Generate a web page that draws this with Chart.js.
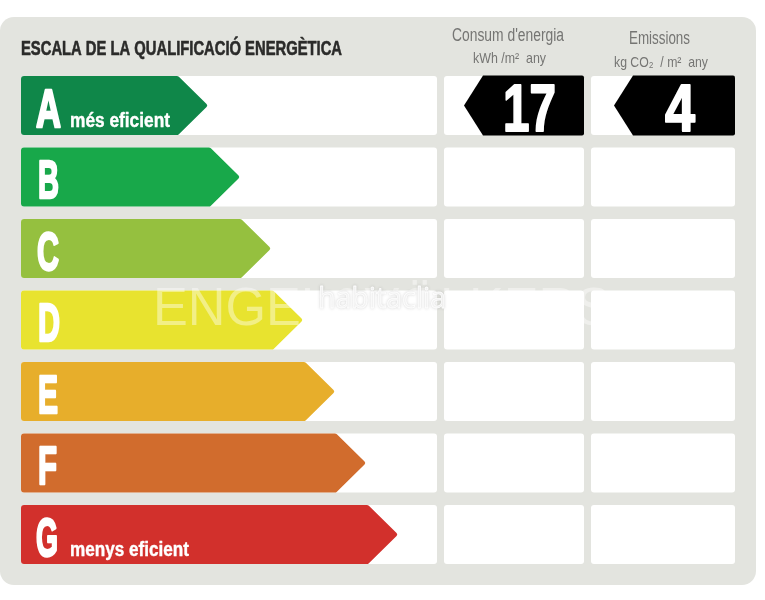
<!DOCTYPE html>
<html lang="ca">
<head>
<meta charset="utf-8">
<title>Escala de la qualificació energètica</title>
<script src="https://cdn.jsdelivr.net/npm/chart.js@4"></script>
<style>
  html, body { margin: 0; padding: 0; background: #fff; }
  canvas { display: block; }
</style>
</head>
<body>
<canvas id="chart" width="765" height="600"></canvas>
<script>
const categories = ["A", "B", "C", "D", "E", "F", "G"];
const arrowLengths = [187, 219, 250, 282, 314, 345, 377];
const arrowColors = ["#0f8749", "#18a84a", "#95c03f", "#e8e32f", "#e7ae2b", "#d16c2d", "#d2302c"];
const consumValues = [17, null, null, null, null, null, null];
const emissionsValues = [4, null, null, null, null, null, null];
const rowCaptions = ["més eficient", "", "", "", "", "", "menys eficient"];

// columns are in x scale units, 1 unit = 1 px
const scaleColumn = [0, 416];
const consumColumn = [423, 563];
const emissionsColumn = [570, 714];
const consumMarker = [443, 563];
const emissionsMarker = [593, 714];

const narrow = '"Liberation Sans Narrow", "Liberation Sans"';

// text squeezed or stretched to the width it has in the reference
// heavy = extra stroke, the reference fonts are fatter than what we have
function fitText(ctx, text, x, baseline, width, font, color, heavy) {
  ctx.save();
  ctx.font = font;
  ctx.fillStyle = color;
  ctx.textAlign = "left";
  ctx.textBaseline = "alphabetic";
  const natural = ctx.measureText(text).width;
  ctx.translate(x, baseline);
  ctx.scale(width / natural, 1);
  ctx.fillText(text, 0, 0);
  if (heavy) {
    ctx.strokeStyle = color;
    ctx.lineWidth = heavy;
    ctx.lineJoin = "round";
    ctx.strokeText(text, 0, 0);
  }
  ctx.restore();
}

class ArrowElement extends Chart.BarElement {
  static id = "arrowBar";
  draw(ctx) {
    const { x, y, base, height } = this.getProps(["x", "y", "base", "height"], true);
    const left = Math.min(x, base);
    const right = Math.max(x, base);
    const top = y - height / 2;
    const bottom = y + height / 2;
    const depth = 30;
    const r = 3;
    ctx.save();
    ctx.fillStyle = this.options.backgroundColor;
    ctx.beginPath();
    ctx.moveTo(left + r, top);
    ctx.arcTo(right - depth, top, right, y, r);
    ctx.arcTo(right, y, right - depth, bottom, 2);
    ctx.arcTo(right - depth, bottom, left, bottom, r);
    ctx.arcTo(left, bottom, left, top, r);
    ctx.arcTo(left, top, right - depth, top, r);
    ctx.closePath();
    ctx.fill();
    ctx.restore();
  }
}

class MarkerElement extends Chart.BarElement {
  static id = "markerBar";
  draw(ctx) {
    const { x, y, base, height } = this.getProps(["x", "y", "base", "height"], true);
    const left = Math.min(x, base);
    const right = Math.max(x, base);
    const top = y - height / 2 - 0.5;
    const bottom = y + height / 2 + 0.5;
    const depth = 19;
    ctx.save();
    ctx.fillStyle = this.options.backgroundColor;
    ctx.beginPath();
    ctx.moveTo(left + depth, top);
    ctx.arcTo(right, top, right, bottom, 2);
    ctx.arcTo(right, bottom, left + depth, bottom, 2);
    ctx.lineTo(left + depth, bottom);
    ctx.lineTo(left, y);
    ctx.closePath();
    ctx.fill();
    ctx.restore();
  }
}

class ArrowController extends Chart.BarController {
  static id = "arrowBar";
  static defaults = { ...Chart.BarController.defaults, dataElementType: "arrowBar" };
}

class MarkerController extends Chart.BarController {
  static id = "markerBar";
  static defaults = { ...Chart.BarController.defaults, dataElementType: "markerBar" };
}

Chart.register(ArrowElement, MarkerElement, ArrowController, MarkerController);

const backgroundPanel = {
  id: "backgroundPanel",
  beforeDraw(chart) {
    const ctx = chart.ctx;
    ctx.save();
    ctx.fillStyle = "#e3e4df";
    ctx.beginPath();
    ctx.roundRect(0, 17, 756, 568, 14);
    ctx.fill();
    ctx.restore();
  },
};

const labelsPlugin = {
  id: "labelsPlugin",
  afterDatasetsDraw(chart) {
    const ctx = chart.ctx;
    const greyText = "#757573";

    // headings
    fitText(ctx, "ESCALA DE LA QUALIFICACIÓ ENERGÈTICA", 21, 55, 321, `bold 20px ${narrow}`, "#2b2b2a", 0.6);
    fitText(ctx, "Consum d'energia", 452, 41, 112, `18px ${narrow}`, greyText);
    fitText(ctx, "kWh /m²  any", 473, 63, 73, `15px ${narrow}`, greyText);
    fitText(ctx, "Emissions", 629, 44, 61, `18px ${narrow}`, greyText);
    fitText(ctx, "kg CO₂  / m²  any", 614, 67, 94, `15px ${narrow}`, greyText);

    // letters and captions on the arrows
    const arrows = chart.getDatasetMeta(3).data;
    const letterBoxes = { A: [36, 25], B: [38, 21], C: [37, 22], D: [38, 22], E: [38, 20], F: [38, 19], G: [36, 22] };
    categories.forEach((letter, i) => {
      const y = arrows[i].y;
      const box = letterBoxes[letter];
      fitText(ctx, letter, box[0], y + 21, box[1], `bold 54px ${narrow}`, "#fff", 2.6);
      if (rowCaptions[i]) {
        const width = rowCaptions[i].startsWith("més") ? 100 : 119;
        fitText(ctx, rowCaptions[i], 70, y + 21.5, width, `bold 20px ${narrow}`, "#fff", 0.4);
      }
    });

    // values inside the black markers
    const consumMeta = chart.getDatasetMeta(4).data;
    const emissionsMeta = chart.getDatasetMeta(5).data;
    consumValues.forEach((v, i) => {
      if (v !== null) fitText(ctx, String(v), 503, consumMeta[i].y + 25, 53, `bold 66px "Liberation Sans"`, "#fff", 2);
    });
    emissionsValues.forEach((v, i) => {
      if (v !== null) fitText(ctx, String(v), 665, emissionsMeta[i].y + 25, 30, `bold 66px "Liberation Sans"`, "#fff", 2);
    });

    // watermark
    ctx.save();
    fitText(ctx, "ENGEL&VÖLKERS", 153, 325, 458, `54px "Liberation Sans"`, "rgba(255,255,255,0.42)");
    ctx.shadowColor = "rgba(130,130,130,0.3)";
    ctx.shadowBlur = 3;
    fitText(ctx, "habitaclia", 318, 308, 128, `29px "Open Sans"`, "rgba(255,255,255,0.9)", 0.8);
    ctx.restore();
  },
};

const panelData = (column) => categories.map(() => column);
const markerData = (values, column) => values.map((v) => (v === null ? null : column));

const panelDataset = (column) => ({
  data: panelData(column),
  backgroundColor: "#ffffff",
  borderRadius: 3,
  borderSkipped: false,
  order: 3,
});

new Chart(document.getElementById("chart"), {
  type: "bar",
  data: {
    labels: categories,
    datasets: [
      panelDataset(scaleColumn),
      panelDataset(consumColumn),
      panelDataset(emissionsColumn),
      { type: "arrowBar", data: arrowLengths, backgroundColor: arrowColors, order: 1 },
      { type: "markerBar", data: markerData(consumValues, consumMarker), backgroundColor: "#000000", order: 1 },
      { type: "markerBar", data: markerData(emissionsValues, emissionsMarker), backgroundColor: "#000000", order: 1 },
    ],
  },
  options: {
    indexAxis: "y",
    responsive: false,
    animation: false,
    layout: { padding: { left: 21, right: 30, top: 69.75, bottom: 29.75 } },
    datasets: {
      bar: { grouped: false, categoryPercentage: 1, barPercentage: 0.825 },
      arrowBar: { grouped: false, categoryPercentage: 1, barPercentage: 0.825 },
      markerBar: { grouped: false, categoryPercentage: 1, barPercentage: 0.825 },
    },
    plugins: { legend: { display: false }, tooltip: { enabled: false } },
    scales: {
      x: { type: "linear", min: 0, max: 714, display: false },
      y: { type: "category", display: false },
    },
  },
  plugins: [backgroundPanel, labelsPlugin],
});
</script>
</body>
</html>
